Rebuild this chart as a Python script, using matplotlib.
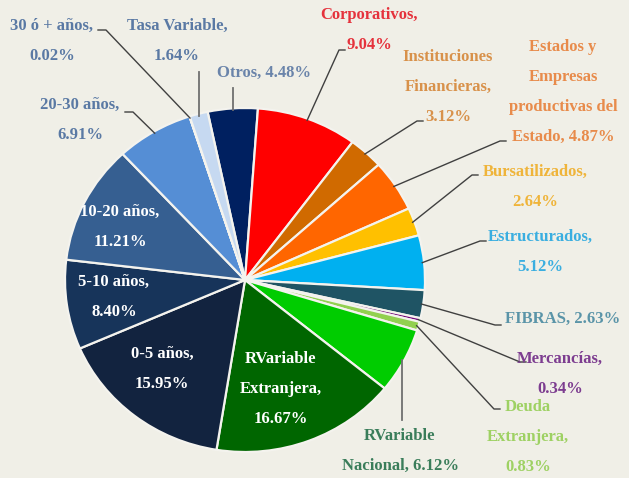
import matplotlib.pyplot as plt
import numpy as np

# datos de la cartera (%)
labels = ["Otros", "Corporativos", "Instituciones\nFinancieras", "Estados y\nEmpresas\nproductivas del\nEstado",
          "Bursatilizados", "Estructurados", "FIBRAS", "Mercancías", "Deuda\nExtranjera",
          "RVariable\nNacional", "RVariable\nExtranjera", "0-5 años", "5-10 años", "10-20 años",
          "20-30 años", "30 ó + años", "Tasa Variable"]
values = [4.48, 9.04, 3.12, 4.87, 2.64, 5.12, 2.63, 0.34, 0.83, 6.12, 16.67, 15.95, 8.40, 11.21, 6.91, 0.02, 1.64]
colors = ["#002060", "#FF0000", "#D06A00", "#FF6600", "#FFC000", "#00B0F0", "#1F5464", "#700078",
          "#92D050", "#00CC00", "#006600", "#12233F", "#17345A", "#365F91", "#558ED5", "#C6D9F1", "#C6D9F1"]
text_colors = ["#6A84AA", "#E5323C", "#D8914A", "#E88B4B", "#EFB43A", "#3AAEE0", "#5A94A8", "#7D3D90",
               "#9ED163", "#3A7D5A", "white", "white", "white", "white", "#5A79A4", "#5A79A4", "#5A79A4"]

W, H = 629, 478
CX, CY, RX, RY = 245, 280, 180, 172
bg = "#F0EFE7"


def px(x, y):
    return (x - CX) / RX, (CY - y) / RY


fig = plt.figure(figsize=(W / 100, H / 100), dpi=100, facecolor=bg)
ax = fig.add_axes([0, 0, 1, 1])
ax.set_facecolor(bg)
wedges, _ = ax.pie(values, colors=colors, startangle=102, counterclock=False,
                   wedgeprops=dict(edgecolor="#F4F3EE", linewidth=1.6))
ax.set_aspect("auto")
ax.set_xlim(-CX / RX, (W - CX) / RX)
ax.set_ylim(-(H - CY) / RY, CY / RY)
ax.axis("off")

# posicion del texto (px), punto de quiebre de la guia (px) o None
layout = {
    0: ((264, 73), (234, 88)),
    1: ((369, 30), (339, 50)),
    2: ((448, 87), (417, 121)),
    3: ((563, 92), (500, 141)),
    4: ((535, 187), (472, 175)),
    5: ((540, 252), (480, 241)),
    6: ((563, 319), (495, 325)),
    7: ((560, 374), (520, 362)),
    8: ((528, 437), (494, 409)),
    9: ((400, 451), (401, 420)),
    10: ((281, 389), None),
    11: ((162, 369), None),
    12: ((114, 297), None),
    13: ((120, 227), None),
    14: ((80, 120), (133, 112)),
    15: ((52, 41), (106, 30)),
    16: ((177, 41), (200, 72)),
}

cum = np.cumsum([0] + values)
for i, (lab, v) in enumerate(zip(labels, values)):
    (tx, ty), brk = layout[i]
    if i in (0, 6, 3, 9):
        txt = "%s, %.2f%%" % (lab, v)
    else:
        txt = "%s,\n%.2f%%" % (lab, v)
    x, y = px(tx, ty)
    ax.text(x, y, txt, ha="center", va="center", color=text_colors[i], fontsize=12,
            fontweight="bold", family="Liberation Serif", linespacing=2.15)
    if brk is not None:
        mid = np.deg2rad(102 - (cum[i] + v / 2) / 100 * 360)
        ex, ey = np.cos(mid) * 0.99, np.sin(mid) * 0.99
        bx, by = px(*brk)
        if i in (0, 9, 16):
            ax.plot([ex, ex], [ey, by], color="#707070", lw=1.3)
        elif i in (14, 15):
            ax.plot([ex, bx, bx - 8 / RX], [ey, by, by], color="#404040", lw=1)
        else:
            ax.plot([ex, bx, bx + 6 / RX], [ey, by, by], color="#404040", lw=1)

fig.savefig("out.png", dpi=100, facecolor=bg)
